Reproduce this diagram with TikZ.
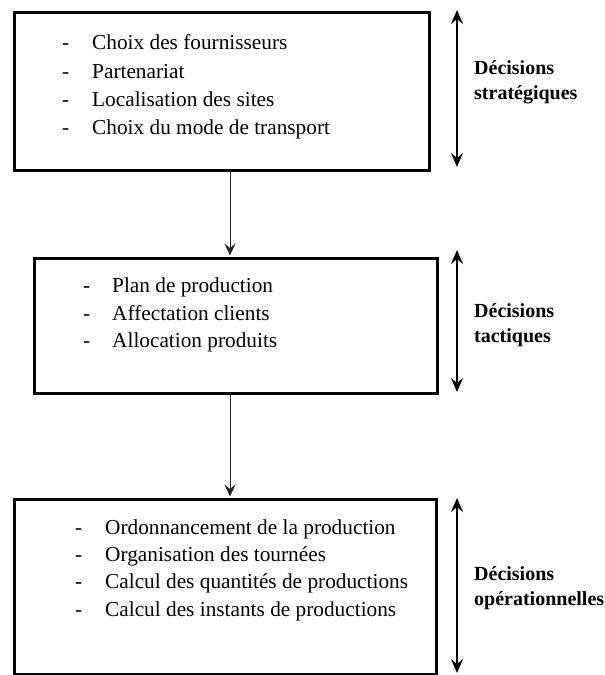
\documentclass[tikz,border=0pt]{standalone}
\usepackage{fontspec}
\setmainfont{Liberation Serif}
\usetikzlibrary{arrows.meta}
\begin{document}
\begin{tikzpicture}[x=1pt,y=-1pt,
  panel/.style={draw, line width=3pt, anchor=north west, inner sep=0pt},
  item/.style={anchor=west, inner sep=0pt, font=\fontsize{21.3}{25}\selectfont,
    text height=15pt, text depth=4pt},
  level/.style={anchor=west, inner sep=0pt, align=left,
    font=\fontsize{20}{25}\selectfont\bfseries},
  flow/.style={draw=black!85, line width=1pt, shorten >=1.5pt,
    -{Stealth[length=12pt,width=11pt,inset=4.5pt]}},
  span/.style={line width=1.6pt,
    {Stealth[length=14pt,width=12pt,inset=5pt]}-{Stealth[length=14pt,width=12pt,inset=5pt]}}
]
\useasboundingbox (0,0) rectangle (605,675);

% the three decision levels
\node[panel, minimum width=415pt, minimum height=158pt] (b1) at (13,11) {};
\node[panel, minimum width=403pt, minimum height=135pt] (b2) at (33,257) {};
\node[panel, minimum width=422pt, minimum height=175pt] (b3) at (13,498) {};

% strategic items
\foreach \y/\t [count=\i] in {43.5/Choix des fournisseurs, 72.5/Partenariat,
    100.5/Localisation des sites, 128.5/Choix du mode de transport} {
  \node[item] (d1\i) at (62,\y) {-};
  \node[item] (t1\i) at (92,\y) {\t};
}
% tactical items
\foreach \y/\t [count=\i] in {286.5/Plan de production, 314.5/Affectation clients,
    341.5/Allocation produits} {
  \node[item] (d2\i) at (83,\y) {-};
  \node[item] (t2\i) at (112,\y) {\t};
}
% operational items
\foreach \y/\t [count=\i] in {528.5/Ordonnancement de la production,
    555.5/Organisation des tournées, 582.5/Calcul des quantités de productions,
    610.5/Calcul des instants de productions} {
  \node[item] (d3\i) at (75,\y) {-};
  \node[item] (t3\i) at (105,\y) {\t};
}

% flow between levels
\coordinate (fx) at (230,0);
\draw[flow] (b1.south -| fx) -- (b2.north -| fx);
\draw[flow] (b2.south -| fx) -- (b3.north -| fx);

% horizon spans
\coordinate (s1a) at (457,10);  \coordinate (s1b) at (457,167);
\coordinate (s2a) at (457,250); \coordinate (s2b) at (457,392);
\coordinate (s3a) at (457,498); \coordinate (s3b) at (457,673);
\draw[span] (s1a) -- (s1b);
\draw[span] (s2a) -- (s2b);
\draw[span] (s3a) -- (s3b);

\node[level] (l1) at (474,82.5) {Décisions\\stratégiques};
\node[level] (l2) at (474,325) {Décisions\\tactiques};
\node[level] (l3) at (474,588) {Décisions\\opérationnelles};
\end{tikzpicture}
\end{document}
